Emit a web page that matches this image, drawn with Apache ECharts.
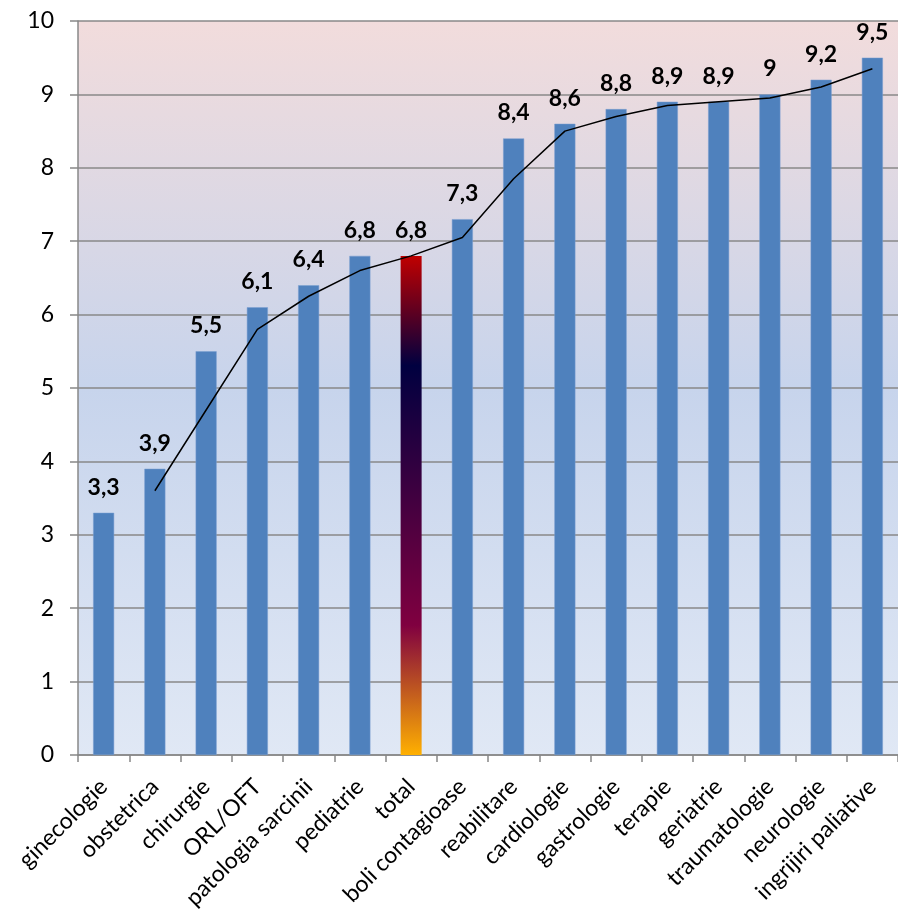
<!DOCTYPE html>
<html>
<head>
<meta charset="utf-8">
<script src="https://cdn.jsdelivr.net/npm/echarts@6/dist/echarts.min.js"></script>
<style>html,body{margin:0;padding:0;background:#fff;}#c{width:898px;height:920px;}</style>
</head>
<body>
<div id="c"></div>
<script>
var categories = ["ginecologie","obstetrica","chirurgie","ORL/OFT","patologia sarcinii","pediatrie","total","boli contagioase","reabilitare","cardiologie","gastrologie","terapie","geriatrie","traumatologie","neurologie","ingrijiri paliative"];
var values = [3.3,3.9,5.5,6.1,6.4,6.8,6.8,7.3,8.4,8.6,8.8,8.9,8.9,9,9.2,9.5];
var trendValues = [null,3.6,4.7,5.8,6.25,6.6,6.8,7.05,7.85,8.5,8.7,8.85,8.9,8.95,9.1,9.35];
var yTicks = [0,1,2,3,4,5,6,7,8,9,10];
var highlightCategory = "total";

var FONT = "Lato, 'Open Sans', sans-serif";
var chart = echarts.init(document.getElementById('c'), null, {renderer:'canvas'});

var barData = values.map(function(v, i){
  if (categories[i] === highlightCategory) {
    return {value: v, itemStyle: {color: new echarts.graphic.LinearGradient(0,0,0,1,[
      {offset:0, color:'#c00000'},
      {offset:0.22, color:'#000040'},
      {offset:0.74, color:'#800040'},
      {offset:1, color:'#ffb000'}
    ]), borderWidth:0}};
  }
  return v;
});

chart.setOption({
  animation:false,
  grid:{left:78, top:21, width:826, height:734, show:true, borderWidth:0,
    backgroundColor: new echarts.graphic.LinearGradient(0,0,0,1,[
      {offset:0, color:'#f2dcdc'},
      {offset:0.5, color:'#c7d4ec'},
      {offset:1, color:'#e0e8f5'}
    ])},
  xAxis:{type:'category', data:categories, boundaryGap:true,
    axisLine:{lineStyle:{color:'#888888', width:1.5}},
    axisTick:{show:true, alignWithLabel:false, length:7, lineStyle:{color:'#888888', width:1.5}},
    axisLabel:{rotate:45, interval:0, color:'#000', fontSize:23, fontFamily:FONT, margin:28}},
  yAxis:{type:'value', min:yTicks[0], max:yTicks[yTicks.length-1], interval:1,
    axisLine:{show:true, lineStyle:{color:'#888888', width:1.5}},
    axisTick:{show:true, length:8, lineStyle:{color:'#888888', width:1.5}},
    splitLine:{show:true, lineStyle:{color:'#888888', width:1.5}},
    axisLabel:{color:'#000', fontSize:23, fontFamily:FONT, margin:24}},
  series:[
    {type:'bar', data:barData, barWidth:21,
     itemStyle:{color:'#4f81bd', borderColor:'#7a9fd0', borderWidth:0.5},
     label:{show:true, position:'top', distance:14, color:'#000', fontSize:23, fontWeight:'bold', fontFamily:FONT,
       formatter:function(p){return String(p.value).replace('.', ',');}}},
    {type:'line', data:trendValues, showSymbol:false, symbol:'none', connectNulls:false,
     lineStyle:{color:'#000', width:1.5}, z:5, silent:true}
  ]
});
</script>
</body>
</html>
